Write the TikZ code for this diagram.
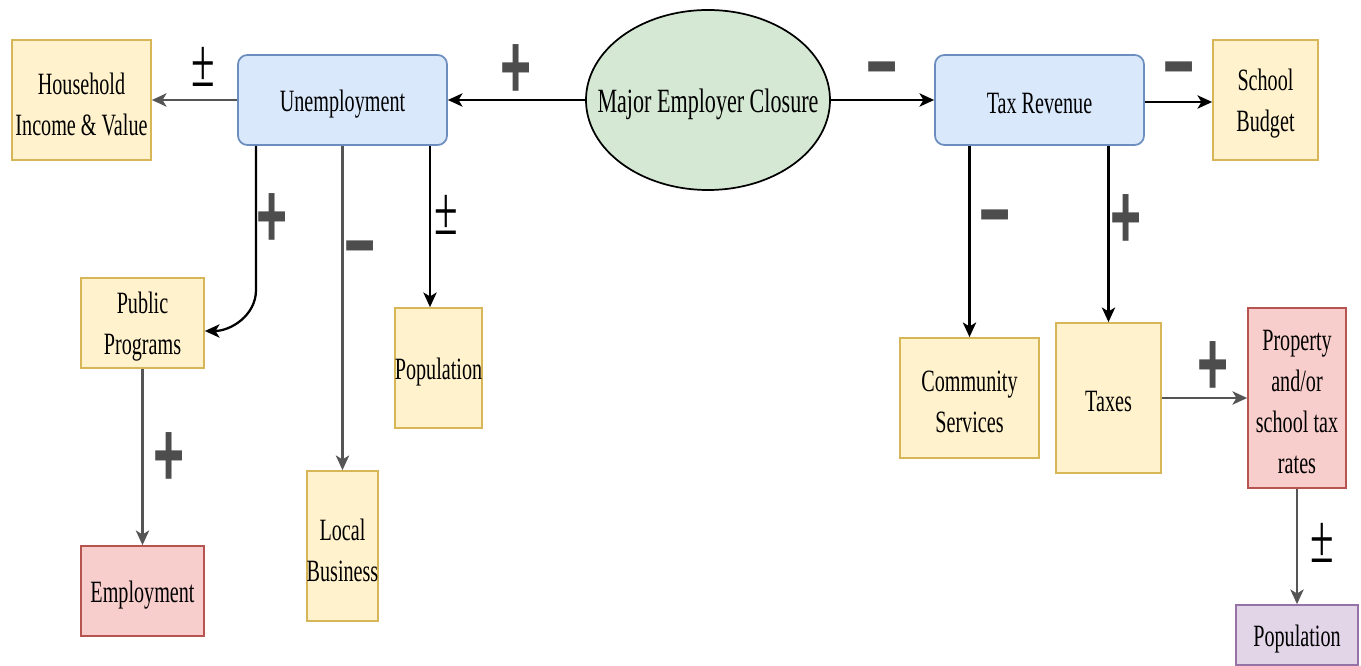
\documentclass[tikz,border=0pt]{standalone}
\usepackage{fontspec}
\usepackage{graphicx}
\setmainfont{Liberation Serif}[FakeStretch=0.65]
\newfontfamily\symfont{Liberation Serif}
\newfontfamily\sgnfont{Liberation Sans}
\usetikzlibrary{arrows.meta,shapes.geometric}
\definecolor{yfill}{HTML}{FFF2CC}
\definecolor{ydraw}{HTML}{D6B656}
\definecolor{bfill}{HTML}{DAE8FC}
\definecolor{bdraw}{HTML}{6C8EBF}
\definecolor{gfill}{HTML}{D5E8D4}
\definecolor{rfill}{HTML}{F8CECC}
\definecolor{rdraw}{HTML}{B85450}
\definecolor{pfill}{HTML}{E1D5E7}
\definecolor{pdraw}{HTML}{9673A6}
\definecolor{signc}{HTML}{4D4D4D}
\definecolor{greyline}{HTML}{555555}
\newcommand{\sgnP}{\scalebox{0.58}[1]{+}}
\newcommand{\sgnM}{\scalebox{0.58}[1]{−}}
\newcommand{\sgnPM}{\scalebox{0.62}[1]{±}}
\tikzset{
  txt/.style={font=\fontsize{23.25}{30.75}\selectfont, align=center, inner sep=0pt, text=black},
  sz/.style 2 args={minimum width=#1*0.75pt, minimum height=#2*0.75pt, inner sep=0pt},
  tx/.style={label={[txt,yshift=-3pt]center:#1}},
  ybox/.style={draw=ydraw, fill=yfill, line width=1.3pt},
  bbox/.style={draw=bdraw, fill=bfill, line width=1.3pt, rounded corners=7pt},
  rbox/.style={draw=rdraw, fill=rfill, line width=1.3pt},
  pbox/.style={draw=pdraw, fill=pfill, line width=1.3pt},
  conn/.style={draw=black, line width=1.7pt, -{Stealth[length=11pt,width=10pt,inset=3pt]}},
  gconn/.style={conn, draw=greyline},
  sgn/.style={font=\sgnfont\fontsize{69}{69}\selectfont\bfseries, text=signc, inner sep=0pt, anchor=base},
  pm/.style={font=\symfont\fontsize{52}{52}\selectfont, text=black, inner sep=0pt, anchor=base},
}
\begin{document}
\begin{tikzpicture}[x=0.75pt,y=-0.75pt]
\useasboundingbox (0,0) rectangle (1361,666);
% nodes
\node[ybox, sz={139}{120}, tx={Household\\Income \& Value}] (hh) at (81.5,100) {};
\node[bbox, sz={209}{90}, tx={Unemployment}] (un) at (342.5,100) {};
\node[ellipse, draw=black, fill=gfill, line width=1.3pt, sz={244}{180},
      label={[font=\fontsize{25.5}{30}\selectfont, inner sep=0pt, yshift=-3pt]center:Major Employer Closure}] (mec) at (708,100) {};
\node[bbox, sz={209}{90}, tx={Tax Revenue}] (tr) at (1039.5,100) {};
\node[ybox, sz={105}{120}, tx={School\\Budget}] (sb) at (1265.5,100) {};
\node[ybox, sz={123}{90}, tx={Public\\Programs}] (pp) at (142.5,323) {};
\node[ybox, sz={87}{120}, tx={Population}] (popl) at (438.5,368) {};
\node[ybox, sz={71}{150}, tx={Local\\Business}] (lb) at (342.5,546) {};
\node[rbox, sz={123}{90}, tx={Employment}] (emp) at (142.5,591) {};
\node[ybox, sz={139}{120}, tx={Community\\Services}] (cs) at (969.5,398) {};
\node[ybox, sz={105}{150}, tx={Taxes}] (tx) at (1108.5,398) {};
\node[rbox, sz={98}{180}, tx={Property\\and/or\\school tax\\rates}] (prop) at (1297,398) {};
\node[pbox, sz={122}{60}, tx={Population}] (popr) at (1297,635) {};
% helper coordinates
\coordinate (c1) at (256,290);
\coordinate (c2) at (430,0);
% connectors
\draw[conn] (mec.west) -- (un.east);
\draw[gconn] (un.west) -- (hh.east);
\draw[conn] (mec.east) -- (tr.west);
\draw[conn] ([yshift=-1.5pt]tr.east) -- ([yshift=-1.5pt]sb.west);
\draw[conn] (un.south -| c1) -- (c1) to[out=-90,in=0] ([yshift=-6pt]pp.east);
\draw[gconn] (un.south) -- (lb.north);
\draw[conn] (un.south -| c2) -- (popl.north -| c2);
\draw[gconn] (pp.south) -- (emp.north);
\draw[conn] (tr.south -| cs.north) -- (cs.north);
\draw[conn] (tr.south -| tx.north) -- (tx.north);
\draw[gconn] (tx.east) -- (prop.west);
\draw[gconn] (prop.south) -- (popr.north);
% signs (base placed about 32px below the visible centre)
\node[sgn] (s1) at (516,99) {\sgnP};
\node[pm]  (s2) at (203,87) {\sgnPM};
\node[sgn] (s3) at (882,98) {\sgnM};
\node[sgn] (s4) at (1179,98) {\sgnM};
\node[sgn] (s5) at (272,248) {\sgnP};
\node[sgn] (s6) at (360,277) {\sgnM};
\node[pm]  (s7) at (446,235) {\sgnPM};
\node[sgn] (s8) at (169,487) {\sgnP};
\node[sgn] (s9) at (995,246) {\sgnM};
\node[sgn] (s10) at (1126,249) {\sgnP};
\node[sgn] (s11) at (1213,396) {\sgnP};
\node[pm]  (s12) at (1322,562) {\sgnPM};
\end{tikzpicture}
\end{document}
